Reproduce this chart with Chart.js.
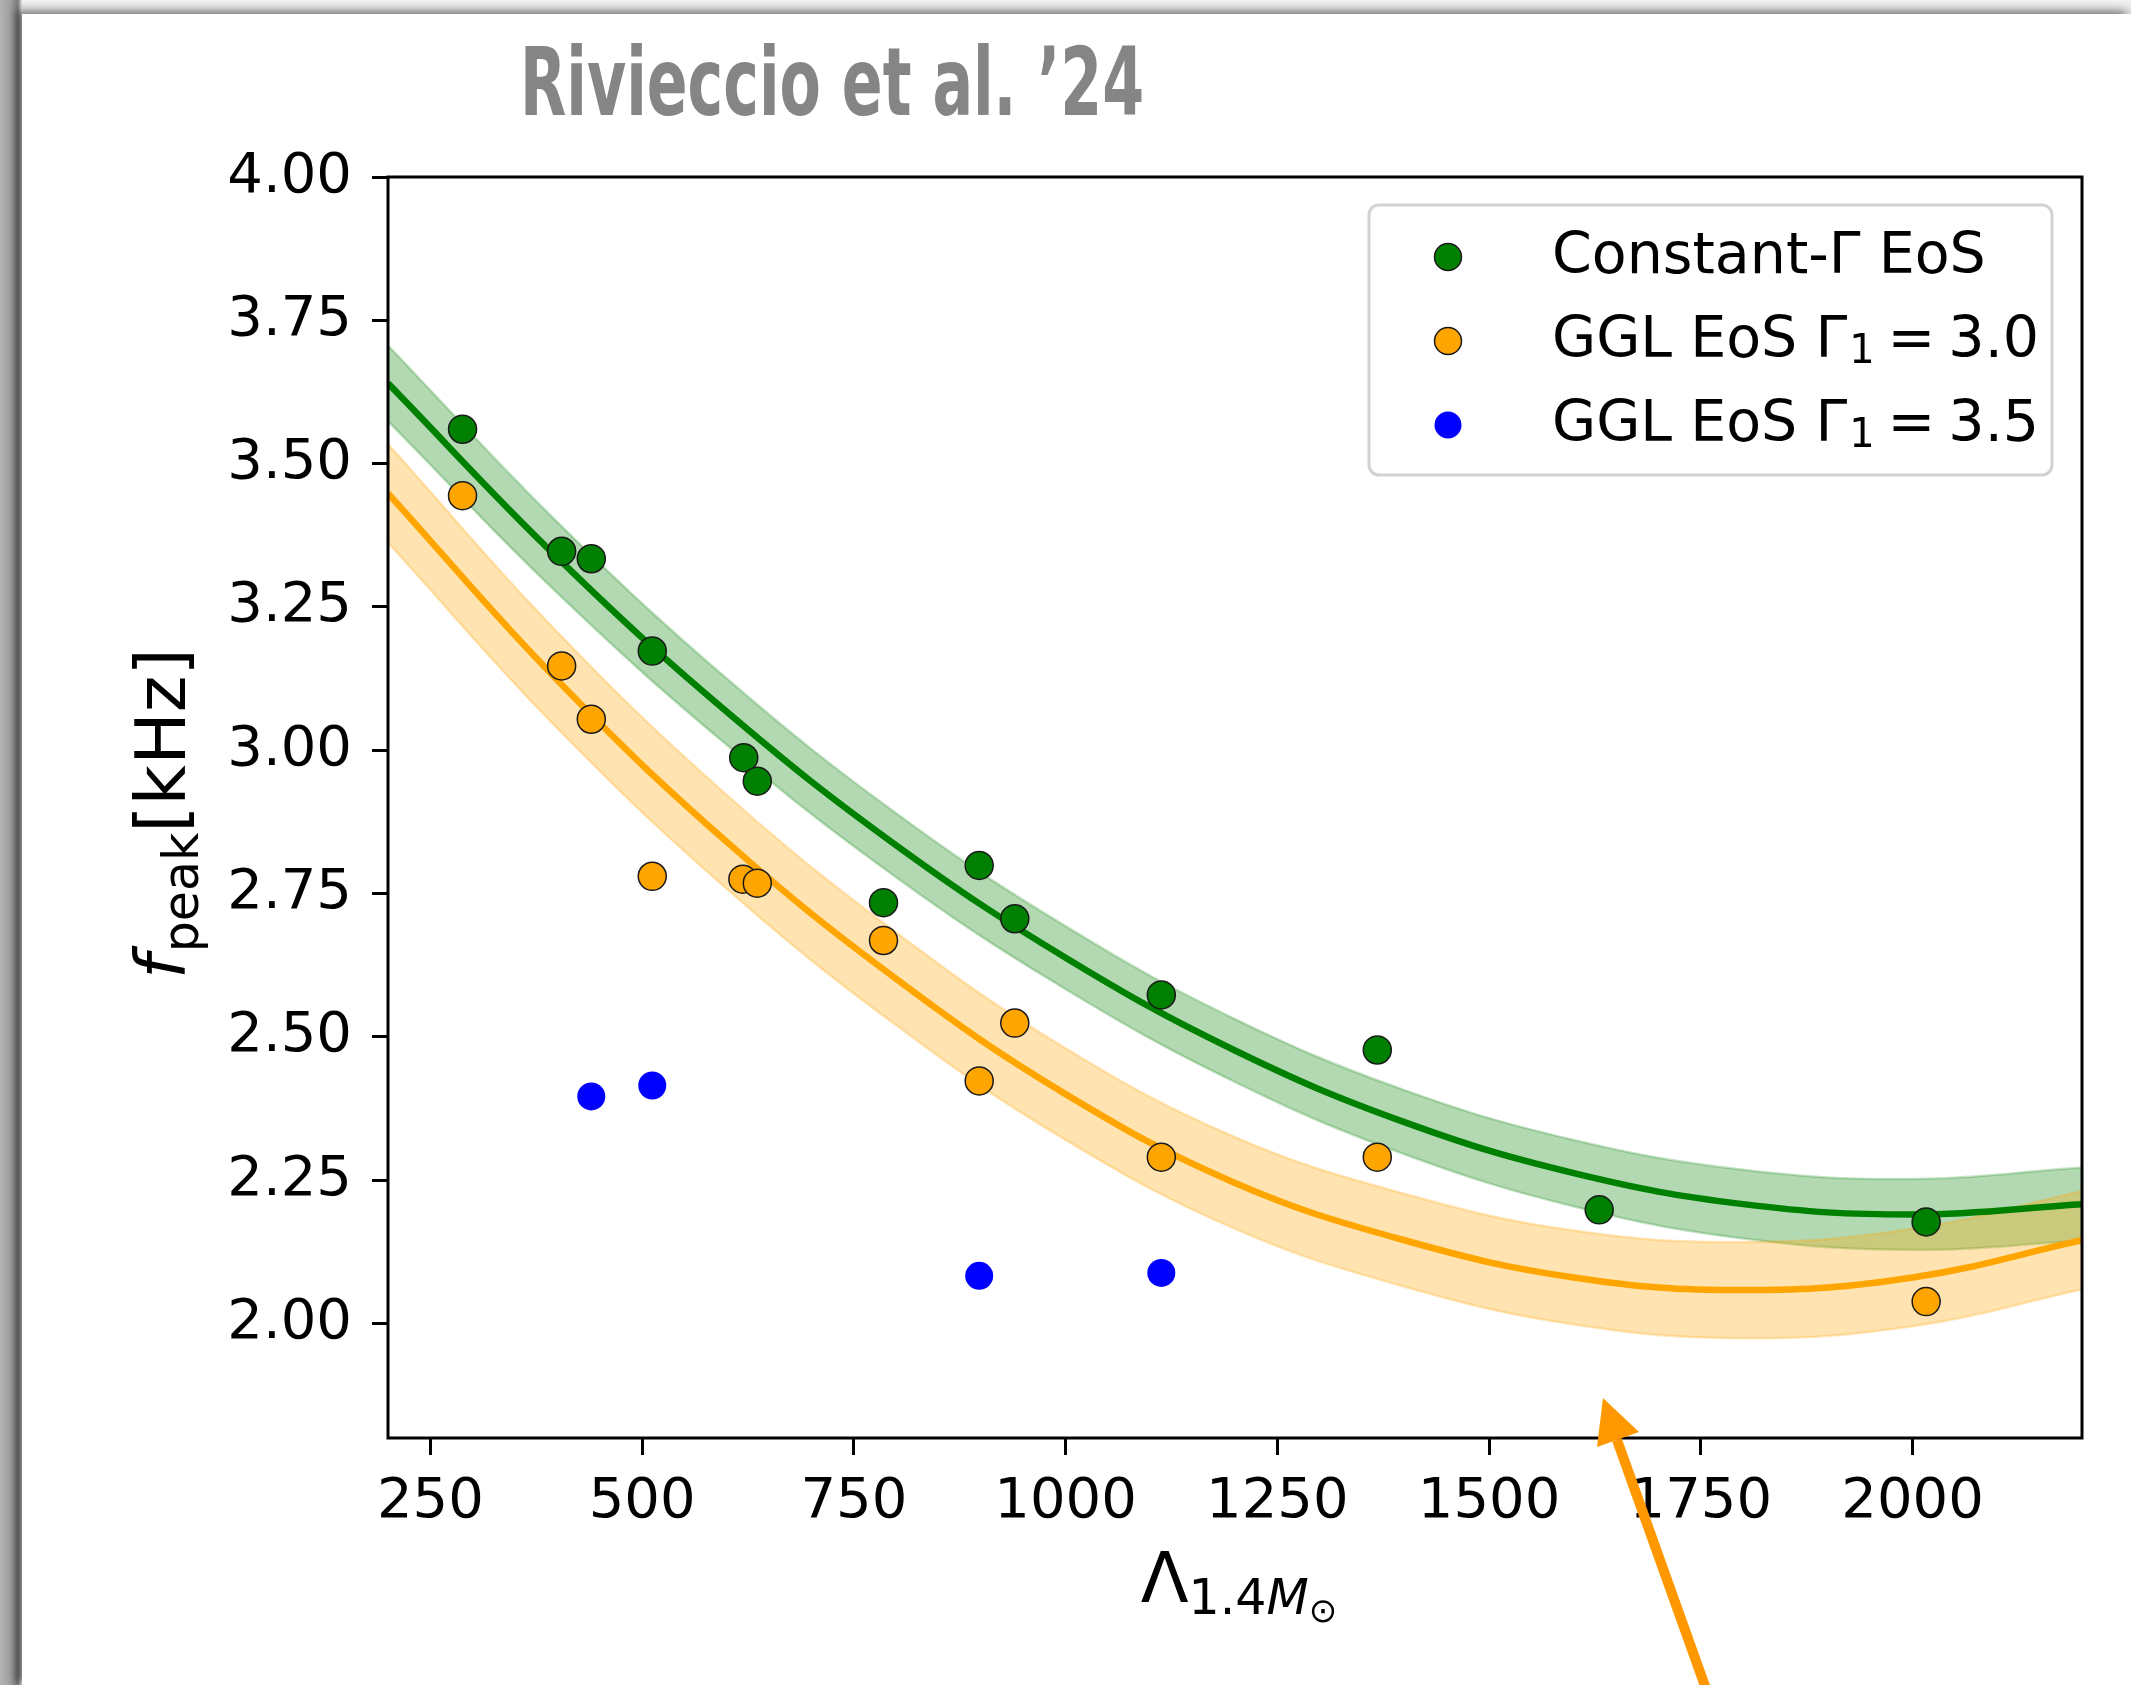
<!DOCTYPE html>
<html>
<head>
<meta charset="utf-8">
<script src="https://cdn.jsdelivr.net/npm/chart.js@4.4.1/dist/chart.umd.min.js"></script>
<style>
  html, body { margin: 0; padding: 0; }
  body {
    width: 2131px; height: 1685px; position: relative; overflow: hidden;
    background: linear-gradient(to right, #b4b4b4 0px, #a0a0a0 10px, #7a7a7a 18px, #e4e4e4 22px);
  }
  #panel {
    position: absolute; left: 22px; top: 14px; width: 2109px; height: 1671px;
    background: #fff; box-shadow: -6px -3px 8px rgba(0,0,0,0.45);
  }
  #topband { position: absolute; left: 22px; top: 0; width: 2109px; height: 14px;
    background: linear-gradient(to bottom, #f2f2f2, #dcdcdc); }
  #chart { position: absolute; left: 0; top: 0; }
</style>
</head>
<body>
<div id="topband"></div>
<div id="panel"></div>
<canvas id="chart" width="2131" height="1685"></canvas>
<script>
// values
const lambdaConst = [288, 405, 440, 512, 620, 636, 785, 898, 940, 1113, 1368, 1630, 2016];
const fpeakConst  = [3.560, 3.347, 3.334, 3.173, 2.987, 2.946, 2.734, 2.799, 2.706, 2.573, 2.477, 2.198, 2.177];

const lambdaGGL30 = [288, 405, 440, 512, 619, 636, 785, 898, 940, 1113, 1368, 2016];
const fpeakGGL30  = [3.444, 3.147, 3.054, 2.780, 2.775, 2.768, 2.668, 2.423, 2.524, 2.290, 2.290, 2.038];

const lambdaGGL35 = [440, 512, 898, 1113];
const fpeakGGL35  = [2.396, 2.415, 2.083, 2.088];

// fitted curves and bands, read at these Lambda values
const fitLambda   = [200, 400, 600, 800, 1000, 1200, 1400, 1600, 1800, 2000, 2200];
const fitConst    = [3.640, 3.336, 3.067, 2.834, 2.638, 2.476, 2.351, 2.262, 2.208, 2.190, 2.208];
const fitConstHi  = [3.706, 3.398, 3.125, 2.890, 2.693, 2.531, 2.407, 2.320, 2.268, 2.252, 2.272];
const fitConstLo  = [3.574, 3.274, 3.009, 2.778, 2.583, 2.421, 2.295, 2.204, 2.148, 2.128, 2.144];
const fitGGL      = [3.448, 3.122, 2.840, 2.601, 2.400, 2.245, 2.145, 2.080, 2.058, 2.080, 2.145];
const fitGGLHi    = [3.534, 3.206, 2.922, 2.682, 2.480, 2.325, 2.226, 2.162, 2.142, 2.165, 2.231];
const fitGGLLo    = [3.362, 3.038, 2.758, 2.520, 2.320, 2.165, 2.064, 1.998, 1.974, 1.995, 2.059];

const xTicks = [250, 500, 750, 1000, 1250, 1500, 1750, 2000];
const yTicks = [2.00, 2.25, 2.50, 2.75, 3.00, 3.25, 3.50, 3.75, 4.00];

const legendRows = [
  { color: 'green',  main: 'Constant-\u0393 EoS', sub: '', rest: '' },
  { color: 'orange', main: 'GGL EoS \u0393', sub: '1', rest: '3.0' },
  { color: 'blue',   main: 'GGL EoS \u0393', sub: '1', rest: '3.5' },
];

const FONT = "'DejaVu Sans', sans-serif";

function pts(xs, ys) {
  return xs.map((x, i) => ({ x: x, y: ys[i] }));
}

function scatterSet(label, xs, ys, color, edge) {
  return {
    label,
    data: pts(xs, ys),
    backgroundColor: color,
    borderColor: edge ? '#1a1a1a' : color,
    borderWidth: edge ? 1.5 : 0,
    pointRadius: 14,
    pointHoverRadius: 14,
    order: 0,
  };
}

function lineSet(ys, color, width, order, fill, bg) {
  return {
    type: 'line',
    data: pts(fitLambda, ys),
    borderColor: color,
    borderWidth: width,
    backgroundColor: bg || 'transparent',
    pointRadius: 0,
    tension: 0.4,
    fill: fill,
    order: order,
  };
}

const decor = {
  id: 'decor',
  afterDatasetsDraw(chart) {
    const { ctx, chartArea: a } = chart;
    ctx.save();
    ctx.strokeStyle = '#000';
    ctx.lineWidth = 3;
    ctx.strokeRect(a.left, a.top, a.right - a.left, a.bottom - a.top);
    ctx.restore();
  },
  afterDraw(chart) {
    const { ctx, chartArea: a } = chart;
    ctx.save();

    // legend box
    const lw = 683, lh = 270;
    const lx = a.right - 30 - lw, ly = a.top + 28;
    ctx.beginPath();
    ctx.roundRect(lx, ly, lw, lh, 10);
    ctx.fillStyle = 'rgba(255,255,255,0.85)';
    ctx.fill();
    ctx.strokeStyle = '#d2d2d2';
    ctx.lineWidth = 3;
    ctx.stroke();
    legendRows.forEach((r, i) => {
      const cy = ly + 52 + i * 84;
      ctx.beginPath();
      ctx.arc(lx + 79, cy, 13.5, 0, Math.PI * 2);
      ctx.fillStyle = r.color;
      ctx.fill();
      if (r.color !== 'blue') {
        ctx.strokeStyle = '#1a1a1a';
        ctx.lineWidth = 1.5;
        ctx.stroke();
      }
      ctx.fillStyle = '#000';
      ctx.textBaseline = 'alphabetic';
      ctx.textAlign = 'left';
      let tx = lx + 183;
      ctx.font = '57px ' + FONT;
      ctx.fillText(r.main, tx, cy + 16);
      tx += ctx.measureText(r.main).width;
      if (r.sub) {
        ctx.font = '40px ' + FONT;
        ctx.fillText(r.sub, tx + 2, cy + 22);
        tx += ctx.measureText(r.sub).width + 2 + 13;
        ctx.font = '57px ' + FONT;
        ctx.fillText('=', tx, cy + 16);
        tx += ctx.measureText('=').width + 13;
        ctx.fillText(r.rest, tx, cy + 16);
      }
    });

    // y axis title: f_peak [kHz]
    ctx.save();
    ctx.translate(185, 979);
    ctx.rotate(-Math.PI / 2);
    ctx.fillStyle = '#000';
    ctx.textAlign = 'left';
    ctx.textBaseline = 'alphabetic';
    ctx.font = 'italic 70px ' + FONT;
    ctx.fillText('f', 0, 0);
    let px = ctx.measureText('f').width + 2;
    ctx.font = '49px ' + FONT;
    ctx.fillText('peak', px, 13);
    px += ctx.measureText('peak').width;
    ctx.font = '70px ' + FONT;
    ctx.fillText('[kHz]', px, 0);
    ctx.restore();

    // x axis title: Lambda_{1.4 M_sun}
    ctx.fillStyle = '#000';
    ctx.font = '70px ' + FONT;
    const wL = ctx.measureText('\u039B').width;
    ctx.font = '49px ' + FONT;
    const w14 = ctx.measureText('1.4').width;
    ctx.font = 'italic 49px ' + FONT;
    const wM = ctx.measureText('M').width;
    ctx.font = '34px ' + FONT;
    const wS = ctx.measureText('\u2299').width;
    let xx = (a.left + a.right) / 2 + 4 - (wL + w14 + wM + wS) / 2;
    const by = 1602;
    ctx.font = '70px ' + FONT;
    ctx.fillText('\u039B', xx, by);
    xx += wL;
    ctx.font = '49px ' + FONT;
    ctx.fillText('1.4', xx, by + 12);
    xx += w14;
    ctx.font = 'italic 49px ' + FONT;
    ctx.fillText('M', xx, by + 12);
    xx += wM;
    ctx.font = '34px ' + FONT;
    ctx.fillText('\u2299', xx, by + 20);

    // title
    ctx.fillStyle = '#858585';
    ctx.font = "bold 94px 'DejaVu Sans Condensed', 'DejaVu Sans', sans-serif";
    ctx.fillText('Rivieccio et al. \u201924', 520, 115, 624);

    // orange arrow
    ctx.strokeStyle = '#ff9800';
    ctx.fillStyle = '#ff9800';
    ctx.lineWidth = 10;
    ctx.beginPath();
    ctx.moveTo(1710, 1700);
    ctx.lineTo(1617, 1440);
    ctx.stroke();
    ctx.beginPath();
    ctx.moveTo(1603, 1398);
    ctx.lineTo(1597, 1447);
    ctx.lineTo(1639, 1432);
    ctx.closePath();
    ctx.fill();

    ctx.restore();
  }
};

const tickFont = { family: FONT, size: 56 };

new Chart(document.getElementById('chart'), {
  type: 'scatter',
  data: {
    datasets: [
      scatterSet('Constant-\u0393 EoS', lambdaConst, fpeakConst, 'green', true),
      scatterSet('GGL EoS \u0393_1 = 3.0', lambdaGGL30, fpeakGGL30, 'orange', true),
      scatterSet('GGL EoS \u0393_1 = 3.5', lambdaGGL35, fpeakGGL35, 'blue', false),
      lineSet(fitConst, 'green', 6.5, 1, false),
      lineSet(fitGGL, 'orange', 6.5, 1, false),
      lineSet(fitConstHi, 'rgba(0,128,0,0.22)', 2.5, 3, '+1', 'rgba(0,128,0,0.3)'),
      lineSet(fitConstLo, 'rgba(0,128,0,0.22)', 2.5, 3, false),
      lineSet(fitGGLHi, 'rgba(255,165,0,0.25)', 2.5, 2, '+1', 'rgba(255,165,0,0.3)'),
      lineSet(fitGGLLo, 'rgba(255,165,0,0.25)', 2.5, 2, false),
    ]
  },
  options: {
    responsive: false,
    animation: false,
    devicePixelRatio: 1,
    layout: { padding: { left: 0, top: 177, right: 49, bottom: 0 } },
    plugins: {
      legend: { display: false },
      tooltip: { enabled: false },
    },
    scales: {
      x: {
        type: 'linear',
        min: 200,
        max: 2200,
        afterBuildTicks: (s) => { s.ticks = xTicks.map(v => ({ value: v })); },
        afterFit: (s) => { s.height = 247; },
        border: { display: false },
        grid: { drawOnChartArea: false, drawTicks: true, tickLength: 17, tickWidth: 3, tickColor: '#000', color: 'rgba(0,0,0,0)' },
        ticks: { color: '#000', font: tickFont, padding: 14, autoSkip: false, maxRotation: 0, callback: (v) => String(v) },
      },
      y: {
        min: 1.8,
        max: 4.0,
        afterBuildTicks: (s) => { s.ticks = yTicks.map(v => ({ value: v })); },
        afterFit: (s) => { s.width = 388; },
        border: { display: false },
        grid: { drawOnChartArea: false, drawTicks: true, tickLength: 16, tickWidth: 3, tickColor: '#000', color: 'rgba(0,0,0,0)' },
        ticks: { color: '#000', font: tickFont, padding: 20, callback: (v) => v.toFixed(2) },
      }
    }
  },
  plugins: [decor]
});
</script>
</body>
</html>
